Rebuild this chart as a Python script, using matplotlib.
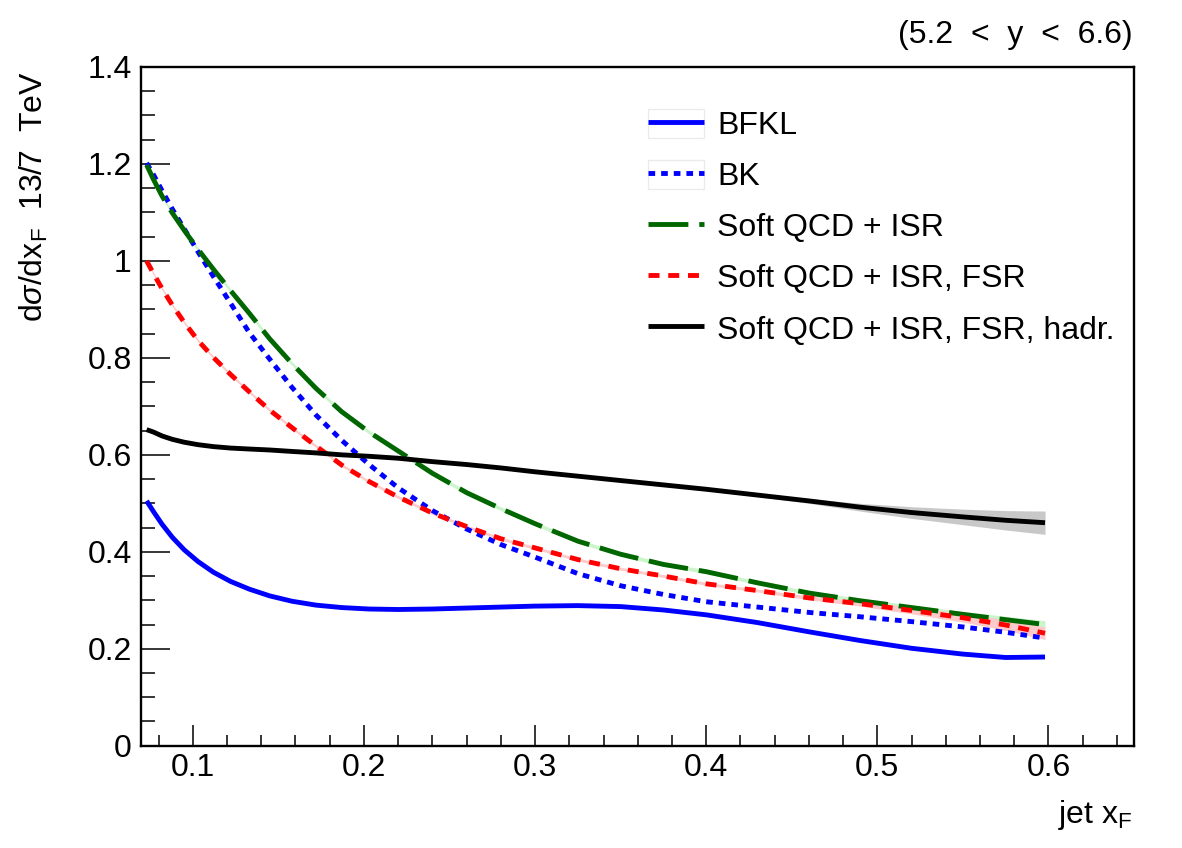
import matplotlib
matplotlib.use("Agg")
import matplotlib.pyplot as plt
from matplotlib.patches import Patch
from matplotlib.ticker import MultipleLocator, FuncFormatter
import numpy as np

plt.rcParams['font.family'] = ['Liberation Sans', 'DejaVu Sans']
plt.rcParams['mathtext.fontset'] = 'custom'
plt.rcParams['mathtext.rm'] = 'Liberation Sans'
plt.rcParams['mathtext.it'] = 'Liberation Sans:italic'

# --- data
x_f = [0.073, 0.077, 0.082, 0.088, 0.095, 0.103, 0.112, 0.122, 0.133, 0.145,
       0.158, 0.172, 0.187, 0.203, 0.22, 0.24, 0.26, 0.28, 0.30, 0.325,
       0.35, 0.375, 0.40, 0.43, 0.46, 0.49, 0.52, 0.55, 0.575, 0.598]

bfkl = [0.505, 0.483, 0.457, 0.430, 0.404, 0.380, 0.358, 0.339, 0.323, 0.309,
        0.298, 0.290, 0.285, 0.282, 0.281, 0.282, 0.284, 0.286, 0.288, 0.289,
        0.287, 0.280, 0.270, 0.254, 0.235, 0.217, 0.201, 0.189, 0.182, 0.183]

bk = [1.202, 1.178, 1.145, 1.107, 1.066, 1.019, 0.968, 0.913, 0.852, 0.797,
      0.739, 0.682, 0.630, 0.580, 0.532, 0.485, 0.447, 0.415, 0.389, 0.355,
      0.330, 0.312, 0.297, 0.286, 0.275, 0.266, 0.256, 0.245, 0.234, 0.222]

isr = [1.198, 1.168, 1.134, 1.099, 1.063, 1.024, 0.983, 0.939, 0.892, 0.839,
       0.788, 0.737, 0.689, 0.647, 0.608, 0.562, 0.522, 0.489, 0.458, 0.422,
       0.395, 0.374, 0.359, 0.336, 0.315, 0.299, 0.285, 0.271, 0.260, 0.250]
isr_err = [0.004, 0.004, 0.004, 0.004, 0.004, 0.004, 0.004, 0.004, 0.004, 0.004,
           0.004, 0.004, 0.004, 0.004, 0.004, 0.004, 0.004, 0.004, 0.004, 0.004,
           0.004, 0.004, 0.004, 0.004, 0.004, 0.005, 0.005, 0.006, 0.007, 0.008]

fsr = [1.000, 0.974, 0.943, 0.909, 0.873, 0.836, 0.801, 0.766, 0.730, 0.692,
       0.656, 0.618, 0.579, 0.545, 0.513, 0.480, 0.452, 0.427, 0.408, 0.384,
       0.365, 0.350, 0.334, 0.320, 0.305, 0.293, 0.279, 0.264, 0.249, 0.232]
fsr_err = [0.003, 0.003, 0.003, 0.003, 0.003, 0.003, 0.003, 0.003, 0.003, 0.003,
           0.003, 0.003, 0.003, 0.003, 0.003, 0.003, 0.003, 0.003, 0.003, 0.003,
           0.003, 0.003, 0.003, 0.003, 0.004, 0.005, 0.007, 0.009, 0.011, 0.013]

hadr = [0.652, 0.647, 0.639, 0.632, 0.626, 0.621, 0.617, 0.614, 0.612, 0.610,
        0.607, 0.604, 0.600, 0.597, 0.593, 0.586, 0.580, 0.573, 0.565, 0.556,
        0.547, 0.538, 0.529, 0.517, 0.505, 0.492, 0.481, 0.472, 0.465, 0.460]
hadr_err = [0.002, 0.002, 0.002, 0.002, 0.002, 0.002, 0.002, 0.002, 0.002, 0.002,
            0.002, 0.002, 0.002, 0.002, 0.002, 0.002, 0.002, 0.002, 0.002, 0.002,
            0.002, 0.002, 0.002, 0.003, 0.005, 0.008, 0.012, 0.016, 0.020, 0.024]

labels = ["BFKL", "BK", "Soft QCD + ISR", "Soft QCD + ISR, FSR",
          "Soft QCD + ISR, FSR, hadr."]

# --- figure
fig = plt.figure(figsize=(11.82, 8.48), dpi=100)
ax = fig.add_axes([0.1197, 0.1206, 0.9594 - 0.1197, 0.921 - 0.1206])

x = np.array(x_f)
lw = 3.5
fs = 23

# bands
ax.fill_between(x, np.array(isr) - isr_err, np.array(isr) + isr_err,
                color='#ccf5cc', lw=0)
ax.fill_between(x, np.array(fsr) - fsr_err, np.array(fsr) + fsr_err,
                color='#ffcaca', lw=0)
ax.fill_between(x, np.array(hadr) - hadr_err, np.array(hadr) + hadr_err,
                color='#c8c8c8', lw=0)

l_bfkl, = ax.plot(x, bfkl, color='#0000ff', lw=lw, solid_capstyle='butt')
l_bk, = ax.plot(x, bk, color='#0000ff', lw=lw, dashes=(1.37, 1.23))
l_isr, = ax.plot(x, isr, color='#006600', lw=lw, dashes=(8.2, 2.25))
l_fsr, = ax.plot(x, fsr, color='#ff0000', lw=lw, dashes=(2.26, 1.8))
l_hadr, = ax.plot(x, hadr, color='black', lw=lw, solid_capstyle='butt')

ax.set_xlim(0.07, 0.65)
ax.set_ylim(0, 1.4)

ax.xaxis.set_major_locator(MultipleLocator(0.1))
ax.xaxis.set_minor_locator(MultipleLocator(0.02))
ax.yaxis.set_major_locator(MultipleLocator(0.2))
ax.yaxis.set_minor_locator(MultipleLocator(0.05))
fmt = FuncFormatter(lambda v, p: '%g' % round(v, 3))
ax.xaxis.set_major_formatter(fmt)
ax.yaxis.set_major_formatter(fmt)

ax.tick_params(axis='both', which='both', direction='in', top=False, right=False,
               width=1.1, labelsize=fs)
ax.tick_params(axis='x', which='major', length=15, pad=5)
ax.tick_params(axis='x', which='minor', length=8)
ax.tick_params(axis='y', which='major', length=21, pad=7)
ax.tick_params(axis='y', which='minor', length=10)
for s in ax.spines.values():
    s.set_linewidth(1.7)

# texts
fig.text(1133 / 1182, 1 - 43 / 848, "(5.2  <  y  <  6.6)", fontsize=fs,
         ha='right', va='baseline')
fig.text(0.029, 1 - 71 / 848, r"d$\sigma$/dx$_{\mathrm{F}}$  13/7  TeV",
         fontsize=fs, rotation=90, ha='center', va='top')
fig.text(1133 / 1182, 1 - 823 / 848, r"jet x$_{\mathrm{F}}$", fontsize=fs,
         ha='right', va='baseline')

# legend
box = dict(facecolor='white', edgecolor='#ebebeb', linewidth=1)
handles = [(Patch(**box), l_bfkl), (Patch(**box), l_bk), l_isr, l_fsr, l_hadr]
ax.legend(handles, labels, loc='upper left',
          bbox_to_anchor=(648 / 1182, 1 - 109 / 848), bbox_transform=fig.transFigure,
          frameon=False, fontsize=fs, handlelength=1.755, handleheight=1.0,
          handletextpad=0.41, labelspacing=0.59, borderpad=0, borderaxespad=0)

fig.savefig("out.png", dpi=100)
